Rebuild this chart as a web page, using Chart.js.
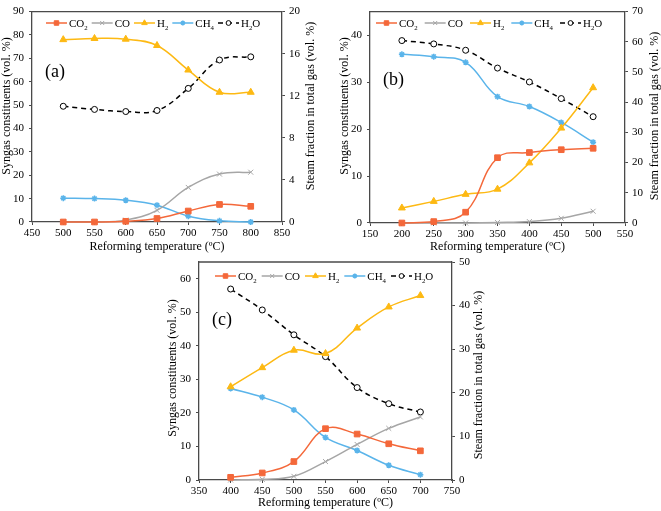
<!DOCTYPE html>
<html>
<head>
<meta charset="utf-8">
<script src="https://cdn.jsdelivr.net/npm/chart.js@4.4.1/dist/chart.umd.min.js"></script>
<style>
  body { margin: 0; background: #fff; }
  #wrap { position: relative; width: 661px; height: 511px; }
  canvas { position: absolute; left: 0; top: 0; }
</style>
</head>
<body>
<div id="wrap">
  <canvas id="chartA" width="661" height="511"></canvas>
  <canvas id="chartB" width="661" height="511"></canvas>
  <canvas id="chartC" width="661" height="511"></canvas>
</div>
<script>
// series labels
const seriesNames = ['CO₂', 'CO', 'H₂', 'CH₄', 'H₂O'];

// (a)
const tempA = [500, 550, 600, 650, 700, 750, 800];
const co2A = [0, 0, 0.3, 1.5, 4.7, 7.5, 6.7];
const coA = [0, 0, 0.8, 5.0, 14.8, 20.5, 21.3];
const h2A = [78.0, 78.5, 78.2, 75.5, 65.0, 55.5, 55.5];
const ch4A = [10.2, 10.0, 9.3, 7.2, 2.5, 0.5, 0];
const h2oA = [11.0, 10.7, 10.5, 10.6, 12.7, 15.4, 15.7];

// (b)
const tempB = [200, 250, 300, 350, 400, 450, 500];
const co2B = [0, 0.3, 2.3, 13.9, 15.0, 15.6, 15.9];
const coB = [0, 0, 0, 0.1, 0.3, 1.0, 2.5];
const h2B = [3.2, 4.6, 6.1, 7.2, 12.8, 20.2, 28.8];
const ch4B = [35.9, 35.4, 34.2, 26.9, 24.8, 21.4, 17.2];
const h2oB = [60.4, 59.3, 57.2, 51.3, 46.7, 41.2, 35.2];

// (c)
const tempC = [400, 450, 500, 550, 600, 650, 700];
const co2C = [0.8, 2.1, 5.5, 15.3, 13.7, 10.8, 8.7];
const coC = [0, 0.2, 1.1, 5.5, 10.6, 15.4, 18.8];
const h2C = [27.8, 33.5, 38.7, 37.7, 45.3, 51.6, 55.0];
const ch4C = [27.3, 24.7, 20.9, 12.7, 8.8, 4.4, 1.6];
const h2oC = [43.8, 39.0, 33.3, 28.3, 21.2, 17.5, 15.6];

// axis ranges [min, max, step]
const xAxisA = [450, 850, 50], yAxisA = [0, 90, 10], y1AxisA = [0, 20, 4];
const xAxisB = [150, 550, 50], yAxisB = [0, 45, 10], y1AxisB = [0, 70, 10];
const xAxisC = [350, 750, 50], yAxisC = [0, 65, 10], y1AxisC = [0, 50, 10];

const xTitle = 'Reforming temperature (ºC)';
const yTitle = 'Syngas constituents (vol. %)';
const y1Title = 'Steam fraction in total gas (vol. %)';

const serif = '"Liberation Serif", "Times New Roman", serif';
const axisColor = '#4a4a4a';
const colors = ['#F4683A', '#A6A6A6', '#FDB913', '#5AB4EA', '#000000'];

function pts(xs, ys) {
    return xs.map((x, i) => ({ x: x, y: ys[i] }));
}

function makeDatasets(xs, co2, co, h2, ch4, h2o) {
    const common = { tension: 0.4, borderWidth: 1.5, clip: false, fill: false };
    return [
        { ...common, label: seriesNames[0], data: pts(xs, co2), borderColor: colors[0], backgroundColor: colors[0],
          pointStyle: 'rect', pointRadius: 4, pointBorderWidth: 1, yAxisID: 'y' },
        { ...common, label: seriesNames[1], data: pts(xs, co), borderColor: colors[1], backgroundColor: colors[1],
          pointStyle: 'crossRot', pointRadius: 3.5, pointBorderWidth: 1, yAxisID: 'y' },
        { ...common, label: seriesNames[2], data: pts(xs, h2), borderColor: colors[2], backgroundColor: colors[2],
          pointStyle: 'triangle', pointRadius: 4, pointBorderWidth: 1, yAxisID: 'y' },
        { ...common, label: seriesNames[3], data: pts(xs, ch4), borderColor: colors[3], backgroundColor: colors[3],
          pointStyle: 'star', pointRadius: 3, pointBorderWidth: 1.5, yAxisID: 'y' },
        { ...common, label: seriesNames[4], data: pts(xs, h2o), borderColor: colors[4], backgroundColor: '#ffffff',
          borderDash: [5, 4], pointStyle: 'circle', pointRadius: 3, pointBorderWidth: 1, yAxisID: 'y1' }
    ];
}

function tickFont() {
    return { family: serif, size: 11 };
}

function makeScales(xr, yr, y1r) {
    const grid = { drawOnChartArea: false, tickLength: 3, color: axisColor, lineWidth: 1 };
    const border = { color: axisColor, width: 1.3 };
    return {
        x: { type: 'linear', min: xr[0], max: xr[1], grid: grid, border: border,
             ticks: { stepSize: xr[2], color: '#000', font: tickFont(), padding: 2, maxRotation: 0 },
             afterFit: s => { s.height = 22; } },
        y: { position: 'left', min: yr[0], max: yr[1], grid: grid, border: border,
             ticks: { stepSize: yr[2], includeBounds: false, color: '#000', font: tickFont(), padding: 5 },
             afterFit: s => { s.width = 30; } },
        y1: { position: 'right', min: y1r[0], max: y1r[1], grid: grid, border: border,
              ticks: { stepSize: y1r[2], includeBounds: false, color: '#000', font: tickFont(), padding: 4 },
              afterFit: s => { s.width = 30; } }
    };
}

// text with subscript digits
const subMap = { '₂': '2', '₄': '4' };
function drawRich(ctx, text, x, y, size) {
    let cx = x;
    for (const ch of text) {
        if (subMap[ch]) {
            ctx.font = (size * 0.62) + 'px ' + serif;
            ctx.fillText(subMap[ch], cx, y + size * 0.28);
            cx += ctx.measureText(subMap[ch]).width;
        } else {
            ctx.font = size + 'px ' + serif;
            ctx.fillText(ch, cx, y);
            cx += ctx.measureText(ch).width;
        }
    }
    return cx - x;
}

const decor = {
    id: 'decor',
    afterDraw(chart, args, o) {
        const ctx = chart.ctx;
        const a = chart.chartArea;
        ctx.save();
        // top frame line
        ctx.strokeStyle = axisColor;
        ctx.lineWidth = 1.3;
        ctx.beginPath();
        ctx.moveTo(a.left, a.top);
        ctx.lineTo(a.right, a.top);
        ctx.stroke();

        ctx.fillStyle = '#000';
        ctx.textBaseline = 'middle';

        // panel tag
        ctx.textAlign = 'left';
        ctx.font = '18px ' + serif;
        ctx.fillText(o.tag, o.tagX, o.tagY);

        // axis titles
        ctx.font = o.titleSize + 'px ' + serif;
        ctx.textAlign = 'center';
        ctx.fillText(xTitle, (a.left + a.right) / 2, o.xTitleY);
        ctx.save();
        ctx.translate(o.yTitleX, o.yTitleY);
        ctx.rotate(-Math.PI / 2);
        ctx.fillText(yTitle, 0, 0);
        ctx.restore();
        ctx.save();
        ctx.translate(o.y1TitleX, o.y1TitleY);
        ctx.rotate(-Math.PI / 2);
        ctx.fillText(y1Title, 0, 0);
        ctx.restore();

        // legend
        ctx.textAlign = 'left';
        ctx.textBaseline = 'alphabetic';
        let x = o.legX;
        const y = o.legY;
        chart.data.datasets.forEach(ds => {
            ctx.strokeStyle = ds.borderColor;
            ctx.lineWidth = ds.borderWidth;
            ctx.setLineDash(ds.borderDash || []);
            ctx.beginPath();
            ctx.moveTo(x, y);
            ctx.lineTo(x + 21, y);
            ctx.stroke();
            ctx.setLineDash([]);
            ctx.fillStyle = ds.backgroundColor;
            ctx.lineWidth = ds.pointBorderWidth;
            Chart.helpers.drawPoint(ctx, { pointStyle: ds.pointStyle, radius: ds.pointRadius * 0.8,
                rotation: 0, borderWidth: ds.pointBorderWidth }, x + 10.5, y);
            ctx.fillStyle = '#000';
            const w = drawRich(ctx, ds.label, x + 23, y + 4, 11);
            x += 23 + w + o.legGap;
        });
        ctx.restore();
    }
};

function makeChart(id, xs, data, ranges, pad, deco) {
    return new Chart(document.getElementById(id), {
        type: 'line',
        data: { datasets: makeDatasets(xs, ...data) },
        options: {
            responsive: false,
            animation: false,
            devicePixelRatio: 1,
            layout: { padding: pad },
            plugins: { legend: { display: false }, tooltip: { enabled: false }, decor: deco },
            scales: makeScales(...ranges)
        },
        plugins: [decor]
    });
}

makeChart('chartA', tempA, [co2A, coA, h2A, ch4A, h2oA], [xAxisA, yAxisA, y1AxisA],
    { left: 2, top: 6, right: 349, bottom: 267 },
    { tag: '(a)', tagX: 45, tagY: 72, titleSize: 12, xTitleY: 247, yTitleX: 7, yTitleY: 106,
      y1TitleX: 311, y1TitleY: 106, legX: 46, legY: 23, legGap: 4 });

makeChart('chartB', tempB, [co2B, coB, h2B, ch4B, h2oB], [xAxisB, yAxisB, y1AxisB],
    { left: 340, top: 6, right: 6, bottom: 266 },
    { tag: '(b)', tagX: 383, tagY: 80, titleSize: 12, xTitleY: 247, yTitleX: 345, yTitleY: 106,
      y1TitleX: 655, y1TitleY: 116, legX: 376, legY: 23, legGap: 7 });

makeChart('chartC', tempC, [co2C, coC, h2C, ch4C, h2oC], [xAxisC, yAxisC, y1AxisC],
    { left: 169, top: 262, right: 179, bottom: 9 },
    { tag: '(c)', tagX: 212, tagY: 320, titleSize: 12, xTitleY: 503, yTitleX: 173, yTitleY: 368,
      y1TitleX: 479, y1TitleY: 375, legX: 215, legY: 276, legGap: 5 });
</script>
</body>
</html>
